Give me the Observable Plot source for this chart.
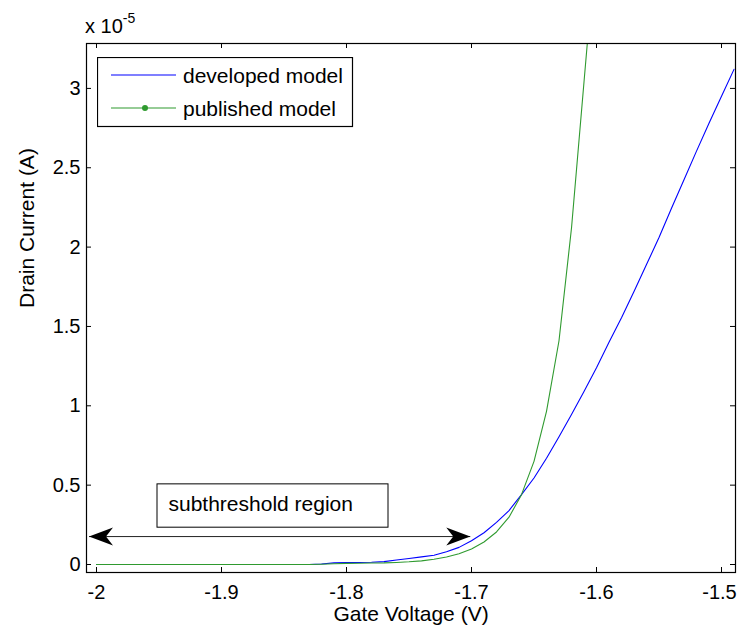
<!DOCTYPE html>
<html>
<head>
<meta charset="utf-8">
<script src="https://cdn.jsdelivr.net/npm/d3@7"></script>
<script src="https://cdn.jsdelivr.net/npm/@observablehq/plot@0.6"></script>
<style>
  html, body { margin: 0; padding: 0; background: #fff; }
  #wrap { position: relative; width: 737px; height: 636px; font-family: "Liberation Sans", Arial, sans-serif; }
  #wrap svg.plotsvg { position: absolute; left: 0; top: 0; }
  .overlay { position: absolute; }
</style>
</head>
<body>
<div id="wrap"></div>
<script>
// ---------------- data (current in units of 1e-5 A) ----------------
const voltage = [-2.00,-1.99,-1.98,-1.97,-1.96,-1.95,-1.94,-1.93,-1.92,-1.91,
  -1.90,-1.89,-1.88,-1.87,-1.86,-1.85,-1.84,-1.83,-1.82,-1.81,
  -1.80,-1.79,-1.78,-1.77,-1.76,-1.75,-1.74,-1.73,-1.72,-1.71,
  -1.70,-1.69,-1.68,-1.67,-1.66,-1.65,-1.64,-1.63,-1.62,-1.61,
  -1.60,-1.59,-1.58,-1.57,-1.56,-1.55,-1.54,-1.53,-1.52,-1.51,
  -1.50,-1.49];
const developed = [0,0,0,0,0,0,0,0,0,0,
  0,0,0,0,0,0,0,0,0.003,0.010,
  0.012,0.013,0.014,0.018,0.028,0.038,0.048,0.058,0.080,0.108,
  0.150,0.200,0.265,0.340,0.440,0.545,0.670,0.805,0.945,1.090,
  1.240,1.400,1.555,1.720,1.890,2.060,2.245,2.425,2.605,2.780,
  2.950,3.120];
const published = [0,0,0,0,0,0,0,0,0,0,
  0,0,0,0,0,0,0,0,0.002,0.005,
  0.007,0.008,0.009,0.010,0.013,0.017,0.023,0.033,0.047,0.068,
  0.098,0.142,0.205,0.298,0.440,0.650,0.965,1.410,2.120,3.040,
  3.960];
const xTicks = [-2, -1.9, -1.8, -1.7, -1.6, -1.5];
const yTicks = [0, 0.5, 1, 1.5, 2, 2.5, 3];
const seriesNames = ["developed model", "published model"];
const annotationText = "subthreshold region";
const xTitle = "Gate Voltage (V)";
const yTitle = "Drain Current (A)";

// ---------------- layout ----------------
const W = 737, H = 636;
const mL = 86, mR = 2, mT = 43, mB = 64;
const innerW = W - mL - mR, innerH = H - mT - mB;
const xDomain = [-2.008, -1.4888];
const yDomain = [-0.0504, 3.283];
const FONT = "'Liberation Sans', Arial, Helvetica, sans-serif";
const BLUE = "#0000ff", GREEN = "#2f9a2f";

// annotation geometry (data coordinates)
const arrow = {x1: -2.006, x2: -1.701, y: 0.176};
const noteBox = {x1: -1.9512, x2: -1.7664, y1: 0.232, y2: 0.505};

const devData = voltage.map((v, i) => ({v, c: developed[i]}));
const pubData = published.map((c, i) => ({v: voltage[i], c}));

// filled "vback" arrowhead, tip at the origin, pointing right
const vback = {
  draw(ctx) {
    ctx.moveTo(0, 0);
    ctx.lineTo(-24, -9);
    ctx.lineTo(-17, 0);
    ctx.lineTo(-24, 9);
    ctx.closePath();
  }
};

const fmt = d => String(d);

const chart = Plot.plot({
  width: W, height: H,
  marginLeft: mL, marginRight: mR, marginTop: mT, marginBottom: mB,
  style: {fontFamily: FONT, fontSize: "20px", color: "#000", background: "#fff"},
  x: {domain: xDomain},
  y: {domain: yDomain},
  marks: [
    // curves
    Plot.line(devData, {x: "v", y: "c", stroke: BLUE, strokeWidth: 1.1, clip: true}),
    Plot.line(pubData, {x: "v", y: "c", stroke: GREEN, strokeWidth: 1.1, clip: true}),
    // annotation: double arrow + text box
    Plot.link([arrow], {x1: "x1", x2: "x2", y1: "y", y2: "y", stroke: "#222", strokeWidth: 1}),
    Plot.dot([{x: arrow.x2, y: arrow.y, r: 0}, {x: arrow.x1, y: arrow.y, r: 180}],
      {x: "x", y: "y", rotate: "r", symbol: vback, fill: "black", stroke: "none", r: 6}),
    Plot.rect([noteBox], {x1: "x1", x2: "x2", y1: "y1", y2: "y2", fill: "white", stroke: "black", strokeWidth: 1}),
    Plot.text([annotationText], {x: noteBox.x1, y: (noteBox.y1 + noteBox.y2) / 2, text: d => d,
      textAnchor: "start", dx: 11, dy: -2, fontSize: 21, fill: "black"}),
    // inward ticks on all four sides
    Plot.tickX(xTicks, {x: d => d, insetTop: innerH - 5, stroke: "black"}),
    Plot.tickX(xTicks, {x: d => d, insetBottom: innerH - 5, stroke: "black"}),
    Plot.tickY(yTicks, {y: d => d, insetRight: innerW - 5, stroke: "black"}),
    Plot.tickY(yTicks, {y: d => d, insetLeft: innerW - 5, stroke: "black"}),
    // tick labels
    Plot.axisX({ticks: xTicks.slice(0, -1), tickSize: 0, tickPadding: 12, label: null,
      tickFormat: fmt, fontSize: 20, fill: "black"}),
    Plot.axisX({ticks: xTicks.slice(-1), tickSize: 0, tickPadding: 12, label: null,
      tickFormat: fmt, fontSize: 20, fill: "black", dx: -2}),
    Plot.axisY({ticks: yTicks, tickSize: 0, tickPadding: 6, label: null,
      tickFormat: fmt, fontSize: 20, fill: "black"}),
    // axis titles
    Plot.text([xTitle], {frameAnchor: "bottom", dy: 48, text: d => d, fontSize: 21, fill: "black"}),
    Plot.text([yTitle], {frameAnchor: "left", dx: -59, rotate: -90, text: d => d, fontSize: 21, fill: "black"}),
    Plot.frame({stroke: "black", strokeWidth: 1.2})
  ]
});
chart.classList.add("plotsvg");
const wrap = document.getElementById("wrap");
wrap.appendChild(chart);

// exponent label "x 10^-5"
const expo = document.createElement("div");
expo.className = "overlay";
expo.style.left = "85px";
expo.style.top = "12px";
expo.style.fontSize = "20px";
expo.style.fontFamily = FONT;
expo.innerHTML = "x 10<sup style='font-size:14px;position:relative;top:-2px'>-5</sup>";
wrap.appendChild(expo);

// legend
const leg = d3.select(wrap).append("svg")
  .attr("class", "overlay")
  .style("left", "97px").style("top", "57px")
  .attr("width", 257).attr("height", 71);
leg.append("rect").attr("x", 0.5).attr("y", 0.5).attr("width", 255).attr("height", 69)
  .attr("fill", "white").attr("stroke", "black").attr("stroke-width", 1.2);
const rows = [
  {name: seriesNames[0], color: BLUE, dot: false, y: 18},
  {name: seriesNames[1], color: GREEN, dot: true, y: 51}
];
rows.forEach(r => {
  leg.append("line").attr("x1", 14).attr("x2", 79).attr("y1", r.y).attr("y2", r.y)
    .attr("stroke", r.color).attr("stroke-width", 1.1);
  if (r.dot) leg.append("circle").attr("cx", 48).attr("cy", r.y).attr("r", 3).attr("fill", r.color);
  leg.append("text").attr("x", 86).attr("y", r.y + 8).attr("font-size", 21)
    .attr("font-family", FONT).attr("fill", "black").text(r.name);
});
</script>
</body>
</html>
